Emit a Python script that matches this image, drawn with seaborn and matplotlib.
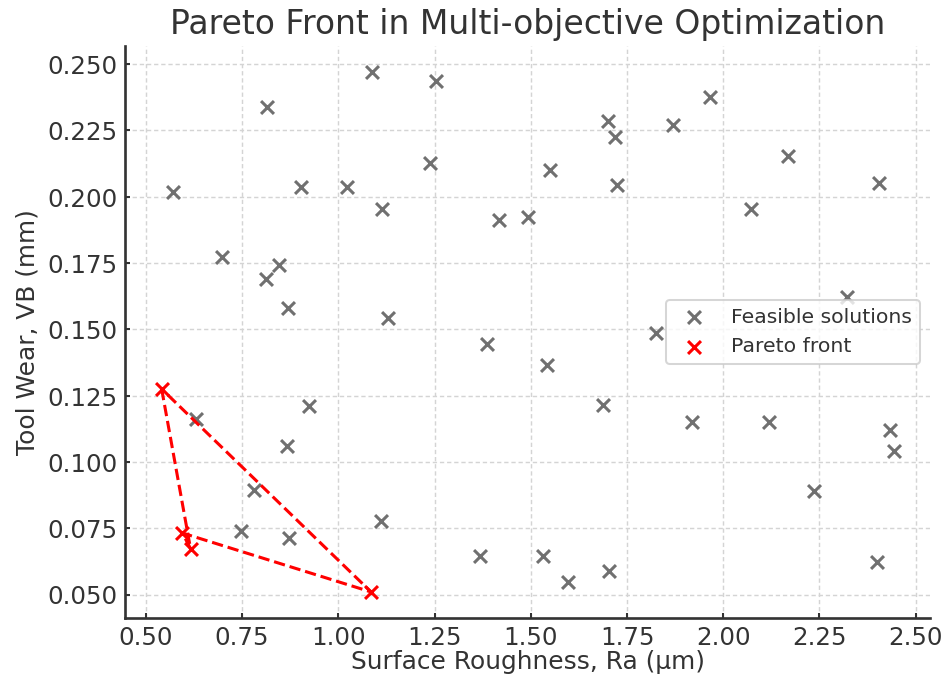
import numpy as np
import pandas as pd
import matplotlib
matplotlib.use("Agg")
import matplotlib.pyplot as plt
import seaborn as sns

# ---- data ----
feasible_x = [0.570, 0.698, 0.815, 0.846, 0.813, 0.870, 0.902, 1.022, 1.087, 1.254,
              1.237, 1.114, 1.418, 1.128, 1.385, 1.492, 1.551, 1.700, 1.718, 1.724,
              1.870, 1.965, 2.168, 2.073, 2.404, 2.321, 1.826, 1.543, 1.687, 1.918,
              2.119, 2.432, 2.443, 2.235, 1.368, 1.531, 1.596, 1.703, 2.400, 0.630,
              0.925, 0.866, 0.781, 0.746, 0.873, 1.111]
feasible_y = [0.2018, 0.1772, 0.2339, 0.1741, 0.1690, 0.1582, 0.2038, 0.2038, 0.2471, 0.2434,
              0.2128, 0.1954, 0.1910, 0.1542, 0.1443, 0.1924, 0.2100, 0.2286, 0.2223, 0.2042,
              0.2270, 0.2374, 0.2153, 0.1954, 0.2050, 0.1623, 0.1485, 0.1365, 0.1216, 0.1149,
              0.1149, 0.1122, 0.1040, 0.0890, 0.0646, 0.0646, 0.0548, 0.0589, 0.0624, 0.1161,
              0.1212, 0.1060, 0.0895, 0.0738, 0.0713, 0.0779]

pareto_x = [0.541, 0.616, 0.595, 1.085]
pareto_y = [0.1275, 0.0673, 0.0732, 0.0510]

title = "Pareto Front in Multi-objective Optimization"
xlabel = "Surface Roughness, Ra (\u03bcm)"
ylabel = "Tool Wear, VB (mm)"
feasible_label = "Feasible solutions"
pareto_label = "Pareto front"

# ---- style ----
sns.set_theme(style="ticks")
plt.rcParams["font.family"] = ["DejaVu Sans"]
plt.rcParams["text.color"] = "#333333"
plt.rcParams["axes.labelcolor"] = "#333333"
plt.rcParams["xtick.color"] = "#333333"
plt.rcParams["ytick.color"] = "#333333"

DPI = 147
fig, ax = plt.subplots(figsize=(947.4 / DPI, 683.4 / DPI), dpi=DPI)
fig.subplots_adjust(left=125 / 947, right=930 / 947, bottom=1 - 618 / 683, top=1 - 46 / 683)

feas_df = pd.DataFrame({"Ra": feasible_x, "VB": feasible_y})
par_df = pd.DataFrame({"Ra": pareto_x, "VB": pareto_y})
closed_df = pd.concat([par_df, par_df.iloc[[0]]], ignore_index=True)

sns.scatterplot(data=feas_df, x="Ra", y="VB", marker="x", color="#707070", s=40,
                linewidth=1.5, label=feasible_label, ax=ax, zorder=3)
sns.lineplot(data=closed_df, x="Ra", y="VB", sort=False, estimator=None, color="red",
             linestyle="--", linewidth=1.5, ax=ax, legend=False, zorder=4)
sns.scatterplot(data=par_df, x="Ra", y="VB", marker="x", color="red", s=40,
                linewidth=1.5, label=pareto_label, ax=ax, zorder=5)

ax.set_title(title, fontsize=16.2, color="#333333")
ax.set_xlabel(xlabel, fontsize=12.2)
ax.set_ylabel(ylabel, fontsize=12.2, labelpad=4)
ax.xaxis.set_label_coords(0.5, -0.056)
ax.tick_params(axis="both", labelsize=12, length=2.5, width=1.0, direction="in", pad=3.5)
ax.grid(True, linestyle=(0, (3, 2)), linewidth=0.7, color="#d4d4d4")
ax.set_axisbelow(True)
for s in ["left", "bottom"]:
    ax.spines[s].set_color("#333333")
    ax.spines[s].set_linewidth(1.3)
sns.despine(ax=ax)

ax.legend(loc="center right", fontsize=10, frameon=True, framealpha=0.8,
          edgecolor="#cccccc", fancybox=True)

fig.savefig("out.png", dpi=DPI)
